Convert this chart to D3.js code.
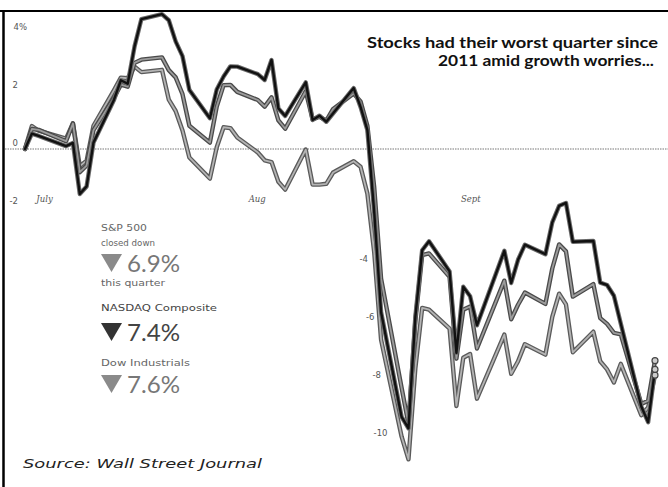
<!DOCTYPE html>
<html><head><meta charset="utf-8">
<script src="https://cdn.jsdelivr.net/npm/d3@7"></script>
<style>html,body{margin:0;padding:0;background:#fff;}svg{display:block;}</style>
</head><body>
<svg id="c" width="668" height="487"></svg>
<script>
// ---- data (percent change since June 30, 2015) ----
const dates = ["2015-06-30",
 "2015-07-01","2015-07-02","2015-07-06","2015-07-07","2015-07-08","2015-07-09","2015-07-10","2015-07-13","2015-07-14","2015-07-15","2015-07-16","2015-07-17","2015-07-20","2015-07-21","2015-07-22","2015-07-23","2015-07-24","2015-07-27","2015-07-28","2015-07-29","2015-07-30","2015-07-31",
 "2015-08-03","2015-08-04","2015-08-05","2015-08-06","2015-08-07","2015-08-10","2015-08-11","2015-08-12","2015-08-13","2015-08-14","2015-08-17","2015-08-18","2015-08-19","2015-08-20","2015-08-21","2015-08-24","2015-08-25","2015-08-26","2015-08-27","2015-08-28","2015-08-31",
 "2015-09-01","2015-09-02","2015-09-03","2015-09-04","2015-09-08","2015-09-09","2015-09-10","2015-09-11","2015-09-14","2015-09-15","2015-09-16","2015-09-17","2015-09-18","2015-09-21","2015-09-22","2015-09-23","2015-09-24","2015-09-25","2015-09-28","2015-09-29","2015-09-30"];
const nasdaq = [0,
 0.53,0.45,0.10,0.21,-1.55,-1.29,0.22,1.70,2.37,2.25,3.54,4.48,4.65,4.44,3.71,3.20,2.04,1.06,2.05,2.50,2.85,2.84,
 2.58,2.38,3.07,1.40,1.14,2.30,1.00,1.15,0.94,1.23,2.10,1.45,0.65,-2.19,-5.63,-9.24,-9.63,-5.80,-3.49,-3.18,-4.22,
 -7.03,-4.75,-5.08,-6.08,-3.51,-4.62,-3.82,-3.30,-3.63,-2.53,-1.96,-1.86,-3.20,-3.17,-4.61,-4.69,-5.06,-6.02,-8.88,-9.42,-7.6];
const sp500 = [0,
 0.69,0.66,0.27,0.88,-0.80,-0.57,0.65,1.77,2.22,2.15,2.97,3.08,3.16,2.72,2.47,1.89,0.80,0.22,1.46,2.20,2.21,1.97,
 1.69,1.46,1.78,0.99,0.70,1.99,1.02,1.11,0.98,1.38,1.91,1.64,0.80,-1.33,-4.47,-8.24,-9.48,-5.94,-3.66,-3.60,-4.41,
 -7.23,-5.54,-5.43,-6.88,-4.54,-5.87,-5.37,-4.95,-5.34,-4.12,-3.29,-3.53,-5.09,-4.66,-5.83,-6.03,-6.34,-6.39,-8.79,-8.68,-7.3];
const dow = [0,
 0.79,0.63,0.36,0.89,-0.59,-0.40,0.80,2.03,2.46,2.44,2.84,2.65,2.73,1.70,1.31,0.64,-0.29,-1.02,0.06,0.75,0.72,0.40,
 -0.12,-0.39,-0.45,-1.13,-1.40,-0.02,-1.23,-1.23,-1.20,-0.81,-0.42,-0.61,-1.54,-3.57,-6.58,-9.92,-10.7,-7.57,-5.48,-5.54,-6.19,
 -8.86,-7.20,-7.07,-8.61,-6.40,-7.75,-7.32,-6.73,-7.09,-5.79,-4.99,-5.36,-7.01,-6.30,-7.32,-7.60,-8.05,-7.41,-9.18,-8.91,-7.8];
const yTicksLeft = [4, 2, 0, -2];
const yTicksRight = [-4, -6, -8, -10];
const monthNames = ["July", "Aug", "Sept"];
const titleLines = ["Stocks had their worst quarter since", "2011 amid growth worries..."];
const legendNames = ["S&P 500", "NASDAQ Composite", "Dow Industrials"];
const legendValues = ["6.9%", "7.4%", "7.6%"];
const sourceText = "Source: Wall Street Journal";

// ---- drawing ----
const svg = d3.select("#c");
const W = 668, H = 487;
const parse = d3.utcParse("%Y-%m-%d");
const dd = dates.map(parse);

const x = d3.scaleUtc().domain([dd[0], dd[dd.length-1]]).range([25, 655]);
const y = d3.scaleLinear().domain([0, -10]).range([149, 439]);

// frame
svg.append("line").attr("x1",0).attr("x2",W).attr("y1",11).attr("y2",11).attr("stroke","#000").attr("stroke-width",2.2);
svg.append("line").attr("x1",3.5).attr("x2",3.5).attr("y1",10).attr("y2",H).attr("stroke","#000").attr("stroke-width",2.5);

// zero line
svg.append("line").attr("x1",5).attr("x2",W).attr("y1",y(0)).attr("y2",y(0))
  .attr("stroke","#777").attr("stroke-width",1).attr("stroke-dasharray","1.5,1");

// y tick labels (left)
const axL = svg.append("g").attr("transform","translate(18,0)")
  .call(d3.axisLeft(y).tickValues(yTicksLeft).tickSize(0).tickPadding(0)
    .tickFormat(d => d === 4 ? d + "%" : String(d)));
axL.select(".domain").remove();
axL.selectAll("text").attr("font-family","DejaVu Sans").attr("font-size",8.5).attr("fill","#555")
  .attr("y",-6).attr("dx", d => d === 4 ? 9 : 0);

// y tick labels (right, staggered along the drop)
const axR = svg.append("g").attr("transform","translate(0,0)")
  .call(d3.axisLeft(y).tickValues(yTicksRight).tickSize(0).tickPadding(0).tickFormat(d => String(d)));
axR.select(".domain").remove();
axR.selectAll("text").attr("font-family","DejaVu Sans").attr("font-size",8.5).attr("fill","#555")
  .attr("y",-6.5).attr("x",(d,i) => 368 + i*6.5);

// month labels
const axB = svg.append("g").attr("transform","translate(0,196)")
  .call(d3.axisBottom(x).ticks(d3.utcMonth.every(1)).tickSize(0).tickPadding(0)
    .tickFormat(d => monthNames[d.getUTCMonth()-6]));
axB.select(".domain").remove();
axB.selectAll("text").attr("font-family","DejaVu Serif").attr("font-style","italic")
  .attr("font-size",8.5).attr("fill","#555").attr("text-anchor","start").attr("dx",4);

// lines
const series = [
  {vals: dow,    outer:"#5a5a5a", inner:"#b4b4b4", wo:4.4, wi:1.8},
  {vals: sp500,  outer:"#4a4a4a", inner:"#9c9c9c", wo:4.4, wi:1.8},
  {vals: nasdaq, outer:"#6a6a6a", inner:"#111111", wo:4.4, wi:2.4}
];
const line = d3.line().x((d,i) => x(dd[i])).y(d => y(d));
series.forEach(s => {
  svg.append("path").attr("d", line(s.vals)).attr("fill","none").attr("stroke",s.outer)
    .attr("stroke-width",s.wo).attr("stroke-linejoin","round").attr("stroke-linecap","round");
  svg.append("path").attr("d", line(s.vals)).attr("fill","none").attr("stroke",s.inner)
    .attr("stroke-width",s.wi).attr("stroke-linejoin","round").attr("stroke-linecap","round");
});
series.forEach(s => {
  const n = s.vals.length - 1;
  svg.append("circle").attr("cx", x(dd[n])).attr("cy", y(s.vals[n])).attr("r",3)
    .attr("fill","#ccc").attr("stroke","#444").attr("stroke-width",1.2);
});

// title
const tFont = "Lato, 'Open Sans', sans-serif";
svg.append("text").attr("x",367).attr("y",48).attr("font-family",tFont).attr("font-weight",700)
  .attr("font-size",14.5).attr("fill","#111").attr("textLength",291).attr("lengthAdjust","spacingAndGlyphs")
  .text(titleLines[0]);
svg.append("text").attr("x",438).attr("y",66).attr("font-family",tFont).attr("font-weight",700)
  .attr("font-size",14.5).attr("fill","#111").attr("textLength",216).attr("lengthAdjust","spacingAndGlyphs")
  .text(titleLines[1]);

// legend block
const small = (txt, yy, len, col) => svg.append("text").attr("x",101).attr("y",yy)
  .attr("font-family","DejaVu Sans").attr("font-size",9.5).attr("fill",col)
  .attr("textLength",len).attr("lengthAdjust","spacingAndGlyphs").text(txt);
const big = (txt, yb, triCol, col) => {
  svg.append("path").attr("d",`M101,${yb-18}L122,${yb-18}L111.5,${yb}Z`).attr("fill",triCol);
  svg.append("text").attr("x",127).attr("y",yb).attr("font-family","Lato, 'DejaVu Sans', sans-serif")
    .attr("font-weight",400).attr("font-size",24).attr("fill",col)
    .attr("textLength",53).attr("lengthAdjust","spacingAndGlyphs").text(txt);
};
small(legendNames[0], 231, 46, "#666");
small("closed down", 246, 54, "#666");
big(legendValues[0], 272, "#8a8a8a", "#777");
small("this quarter", 286, 64, "#666");
small(legendNames[1], 311, 116, "#444");
big(legendValues[1], 341, "#333", "#444");
small(legendNames[2], 366, 89, "#666");
big(legendValues[2], 393, "#8a8a8a", "#777");

// source
svg.append("text").attr("x",23).attr("y",468).attr("font-family","DejaVu Sans").attr("font-style","italic")
  .attr("font-size",13).attr("fill","#222").attr("textLength",239).attr("lengthAdjust","spacingAndGlyphs")
  .text(sourceText);
</script>
</body></html>
